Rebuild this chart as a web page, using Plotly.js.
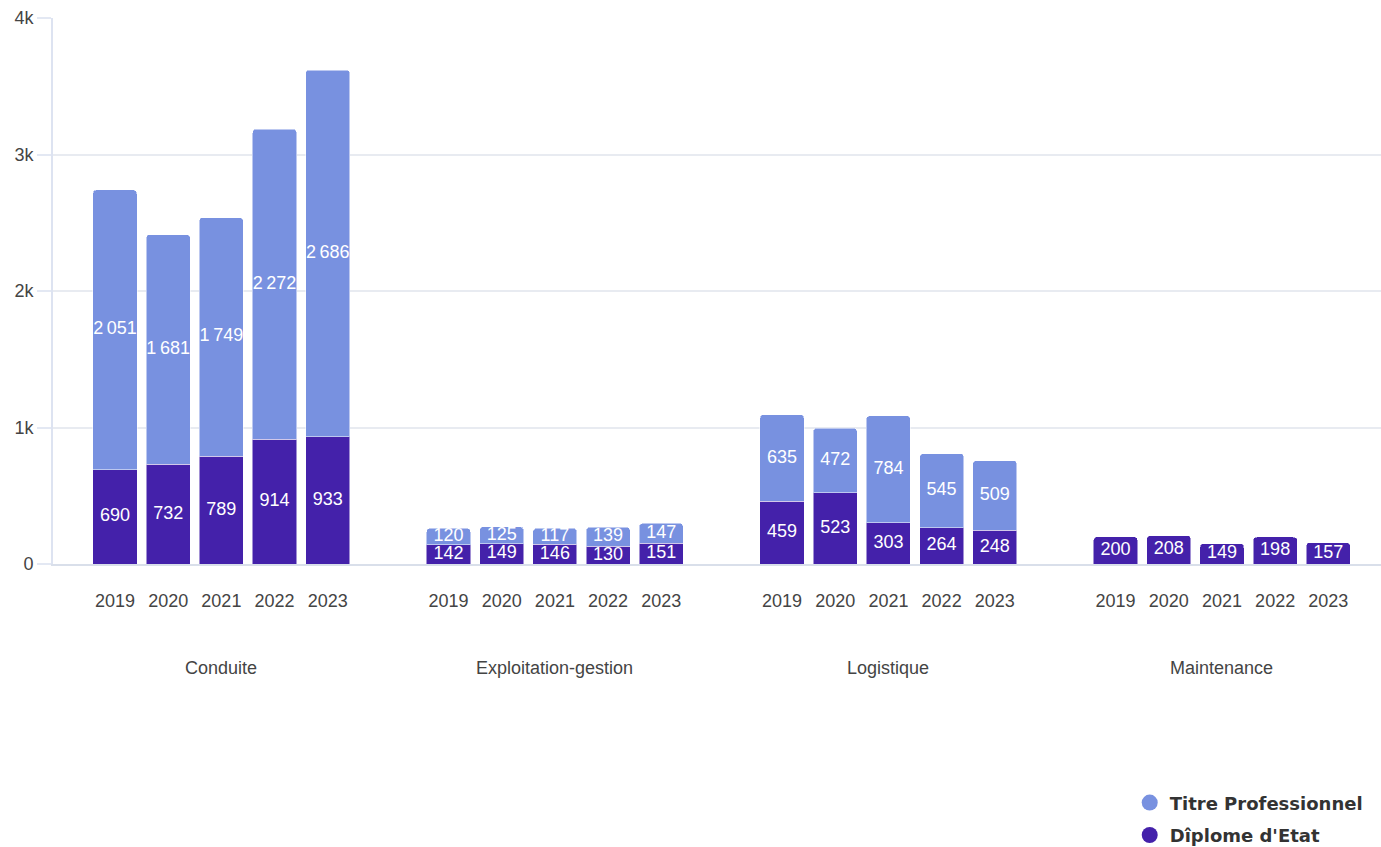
<!DOCTYPE html>
<html>
<head>
<meta charset="utf-8">
<script src="https://cdn.plot.ly/plotly-3.0.1.min.js"></script>
<style>html,body{margin:0;padding:0;background:#fff;}#chart{width:1381px;height:847px;}</style>
</head>
<body>
<div id="chart"></div>
<script>
// ---- Data ----
const groups = ["Conduite", "Exploitation-gestion", "Logistique", "Maintenance"];
const years = ["2019", "2020", "2021", "2022", "2023"];
const titrePro = {
  "Conduite": [2051, 1681, 1749, 2272, 2686],
  "Exploitation-gestion": [120, 125, 117, 139, 147],
  "Logistique": [635, 472, 784, 545, 509],
  "Maintenance": [null, null, null, null, null]
};
const diplomeEtat = {
  "Conduite": [690, 732, 789, 914, 933],
  "Exploitation-gestion": [142, 149, 146, 130, 151],
  "Logistique": [459, 523, 303, 264, 248],
  "Maintenance": [200, 208, 149, 198, 157]
};
const seriesNames = ["Dîplome d'Etat", "Titre Professionnel"];
const colorTitre = "#7891E0";
const colorDiplome = "#4421AA";

const FONT = "Liberation Sans, Arial, sans-serif";

// ---- Slots ----
const groupStride = 6.27;
const xs = [], tickText = [], deVals = [], tpVals = [];
groups.forEach((g, gi) => {
  years.forEach((yr, yi) => {
    xs.push(gi * groupStride + yi);
    tickText.push(yr);
    deVals.push(diplomeEtat[g][yi]);
    tpVals.push(titrePro[g][yi]);
  });
});
const groupCenters = groups.map((g, gi) => gi * groupStride + (years.length - 1) / 2);

function fmt(v) {
  if (v === null || v === undefined) return "";
  return String(v).replace(/\B(?=(\d{3})+(?!\d))/g, "\u2009");
}
// label positions: middle of each stacked segment
const deMid = deVals.map(v => v === null ? null : v / 2);
const tpMid = tpVals.map((v, i) => v === null ? null : (deVals[i] || 0) + v / 2);

const barCommon = {
  type: "bar", x: xs, width: 0.83,
  textposition: "none", showlegend: false, hoverinfo: "skip"
};

const labelCommon = {
  type: "scatter", mode: "text", x: xs,
  textposition: "middle center",
  textfont: {color: "#ffffff", size: 18, family: FONT},
  showlegend: false, hoverinfo: "skip", cliponaxis: false
};

const traces = [
  Object.assign({}, barCommon, {
    name: seriesNames[0], y: deVals,
    marker: {color: colorDiplome, line: {color: "rgba(255,255,255,0.5)", width: 1}}
  }),
  Object.assign({}, barCommon, {
    name: seriesNames[1], y: tpVals,
    marker: {color: colorTitre, line: {color: "rgba(255,255,255,0.5)", width: 1}}
  }),
  Object.assign({}, labelCommon, {y: deMid, text: deVals.map(fmt)}),
  Object.assign({}, labelCommon, {y: tpMid, text: tpVals.map(fmt)}),
  {type: "scatter", mode: "markers", x: [null], y: [null], name: seriesNames[1],
   marker: {color: colorTitre, size: 18, symbol: "circle"}, showlegend: true, legendgroup: "a", hoverinfo: "skip"},
  {type: "scatter", mode: "markers", x: [null], y: [null], name: seriesNames[0],
   marker: {color: colorDiplome, size: 18, symbol: "circle"}, showlegend: true, legendgroup: "b", hoverinfo: "skip"}
];

const annotations = groups.map((g, gi) => ({
  text: g, xref: "x", yref: "paper", x: groupCenters[gi], y: -0.191,
  xanchor: "center", yanchor: "middle", showarrow: false,
  font: {size: 18, color: "#444444", family: FONT}
}));

const layout = {
  width: 1381, height: 847,
  margin: {l: 53, r: 0, t: 18, b: 283, pad: 0, autoexpand: false},
  paper_bgcolor: "#ffffff", plot_bgcolor: "#ffffff",
  barmode: "stack",
  barcornerradius: 4,
  font: {family: FONT, color: "#444444", size: 17},
  xaxis: {
    range: [-1.165, 23.8],
    tickvals: xs, ticktext: tickText,
    tickfont: {size: 18, color: "#444444"},
    ticks: "", ticklabelstandoff: 19,
    showgrid: false, zeroline: false,
    showline: true, linecolor: "#d9dfea", linewidth: 2,
    fixedrange: true
  },
  yaxis: {
    range: [0, 4000], dtick: 1000, tick0: 0,
    tickformat: "~s",
    tickfont: {size: 18, color: "#444444"},
    ticks: "outside", ticklen: 14, tickcolor: "#e3e8f3", tickwidth: 2,
    showgrid: true, gridcolor: "#e8ebf1", gridwidth: 2,
    zeroline: false,
    showline: true, linecolor: "#dde3f1", linewidth: 2,
    fixedrange: true
  },
  showlegend: true,
  legend: {
    x: 0.99, xanchor: "right", y: -0.53, yanchor: "bottom",
    orientation: "v", traceorder: "grouped", tracegroupgap: 6,
    font: {size: 18, color: "#333333", family: "DejaVu Sans, Verdana, sans-serif", weight: "bold"},
    bgcolor: "rgba(0,0,0,0)"
  },
  annotations: annotations
};

Plotly.newPlot("chart", traces, layout, {displayModeBar: false, staticPlot: true});
</script>
</body>
</html>
